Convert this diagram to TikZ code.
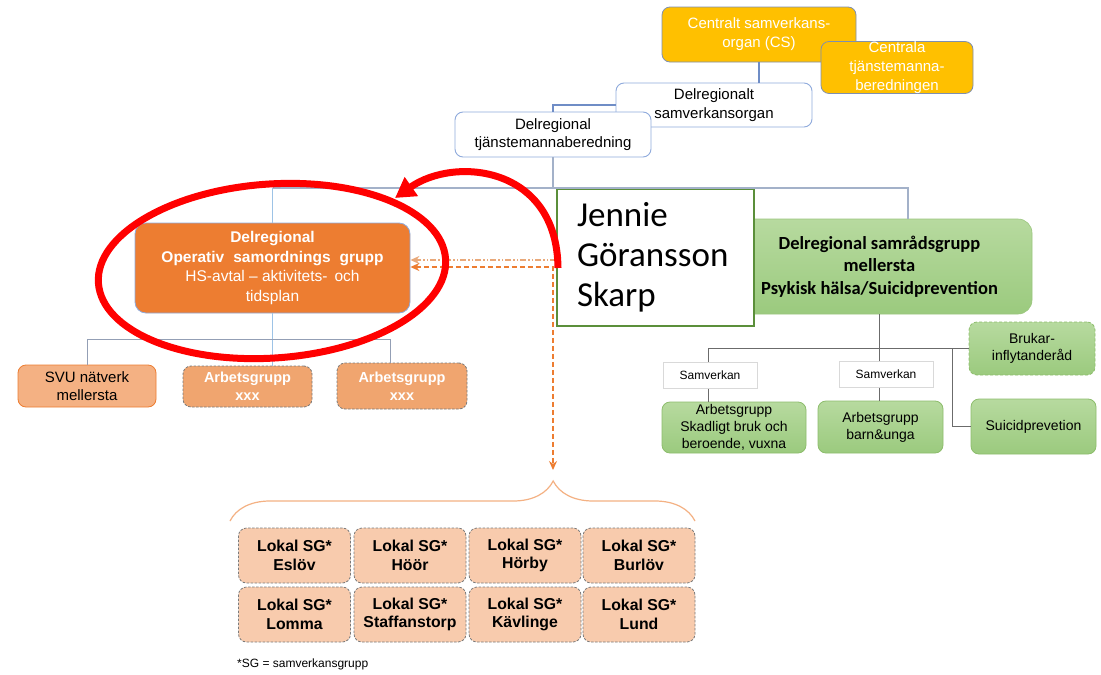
\documentclass[tikz,border=0pt]{standalone}
\usepackage{fontspec}
\setmainfont{Liberation Sans}
\newfontfamily\calfont{Carlito}
\usetikzlibrary{arrows.meta,decorations.pathreplacing,calc}

\definecolor{gold}{HTML}{FFC000}
\definecolor{boxblue}{HTML}{8FAADC}
\definecolor{goldedge}{HTML}{7E8FB0}
\definecolor{orng}{HTML}{ED7D31}
\definecolor{lorng}{HTML}{F4B183}
\definecolor{morng}{HTML}{F0A56F}
\definecolor{porng}{HTML}{F8CBAD}
\definecolor{grnA}{HTML}{B7DA9F}
\definecolor{grnB}{HTML}{9BCA7E}
\definecolor{dgrn}{HTML}{70AD47}
\definecolor{jgrn}{HTML}{5B8F3A}
\definecolor{linegray}{HTML}{6B6B6B}
\definecolor{lineblue}{HTML}{6F8DC6}
\definecolor{linebus}{HTML}{A3B1C9}
\definecolor{lightline}{HTML}{9DC3E6}
\definecolor{dashgray}{HTML}{7A7A7A}
\definecolor{tanline}{HTML}{E9A97A}
\definecolor{brred}{HTML}{FF0000}

\newcommand{\fsz}[2]{\fontsize{#1}{#2}\selectfont}

\begin{document}
\begin{tikzpicture}[x=1pt,y=-1pt,
  basebox/.style={inner sep=0pt, align=center, rounded corners=8pt},
  goldbox/.style={basebox, draw=goldedge, line width=0.8pt, fill=gold, text=white, font=\fsz{15}{19}},
  wbox/.style={basebox, draw=boxblue, line width=0.9pt, fill=white, font=\fsz{15}{18.5}},
  obox/.style={basebox, rounded corners=11pt, draw=boxblue, line width=0.8pt, fill=orng, text=white, font=\fsz{15.5}{19.5}},
  svubox/.style={basebox, draw=orng, line width=0.8pt, fill=lorng, font=\fsz{15}{18.5}},
  xbox/.style={basebox, draw=dashgray, dash pattern=on 2.5pt off 1.5pt, line width=0.8pt, fill=morng, text=white, font=\fsz{14.5}{18}\bfseries},
  lokbox/.style={basebox, draw=dashgray, dash pattern=on 2.5pt off 1.5pt, line width=0.8pt, fill=porng, minimum width=112pt, minimum height=55pt, font=\fsz{15.8}{18.5}\bfseries},
  bgbox/.style={basebox, rounded corners=14pt, draw=dgrn!70, line width=0.6pt, top color=grnA, bottom color=grnB, font=\calfont\fsz{18.5}{22.5}\bfseries},
  sgbox/.style={basebox, draw=dgrn!80, line width=0.8pt, top color=grnA, bottom color=grnB, font=\fsz{14}{17}},
  samv/.style={inner sep=0pt, draw=black!15, line width=0.6pt, fill=white, minimum width=94pt, minimum height=26pt, font=\fsz{12}{14}},
  jbox/.style={inner sep=0pt, draw=jgrn, line width=1.6pt, fill=white, align=left, font=\calfont\fsz{35}{40}},
  topline/.style={draw=lineblue, line width=1.2pt},
  busline/.style={draw=linebus, line width=1.1pt},
  lline/.style={draw=linebus!90!black, line width=1pt},
  lvline/.style={draw=lightline, line width=1pt},
  rline/.style={draw=linegray, line width=1pt},
  dshline/.style={draw=orng, line width=1.4pt, dash pattern=on 5pt off 3pt},
  ddline/.style={draw=tanline, line width=1.4pt, dash pattern=on 6pt off 2pt on 1.5pt off 2pt on 1.5pt off 2pt},
  redline/.style={draw=brred, line width=7pt}
]
\useasboundingbox (0,0) rectangle (1101,675);
\fill[white] (0,0) rectangle (1101,675);

% ---------- top boxes ----------
\node[goldbox, minimum width=194pt, minimum height=55pt] (cs) at (759,34.5) {Centralt samverkans-\\organ (CS)};
\node[goldbox, minimum width=152pt, minimum height=51pt] (ctj) at (897,67.5) {Centrala\\tjänstemanna-\\beredningen};
\node[wbox, minimum width=196pt, minimum height=44pt] (dso) at (714,105) {Delregionalt\\samverkansorgan};
\node[wbox, minimum width=196pt, minimum height=45pt] (dtj) at (553,134.5) {Delregional\\tjänstemannaberedning};

% ---------- coordinates ----------
\coordinate (bus) at (553,188);
\coordinate (gtop) at (908,219);
\coordinate (obus) at (272.5,339);
\coordinate (ag2c) at (390,363);
\coordinate (rl) at (708,348.5);
\coordinate (rj) at (952,348.5);

% ---------- left nodes ----------
\node[obox, minimum width=275pt, minimum height=90pt] (osg) at (272.5,268)
  {\textbf{Delregional}\\\textbf{Operativ\hspace{9pt}samordnings\hspace{9pt}grupp}\\HS-avtal – aktivitets-\hspace{7pt}och\\tidsplan};
\node[svubox, minimum width=138pt, minimum height=42pt] (svu) at (87,386) {SVU nätverk\\mellersta};
\node[xbox, minimum width=129pt, minimum height=41pt] (ag1) at (247.5,386.5) {Arbetsgrupp\\xxx};
\node[xbox, minimum width=130pt, minimum height=46pt] (ag2) at (402,386) {Arbetsgrupp\\xxx};

% ---------- right nodes ----------
\node[bgbox, minimum width=305pt, minimum height=95pt] (gb) at (879.5,266.5)
  {Delregional samrådsgrupp\\mellersta\\Psykisk hälsa/Suicidprevention};
\node[jbox, minimum width=197pt, minimum height=137pt, text width=157pt, inner xsep=20pt] (jen) at (655.5,257.5)
  {Jennie\\Göransson\\Skarp};
\node[sgbox, minimum width=144pt, minimum height=51pt] (agv) at (734,427.5) {Arbetsgrupp\\Skadligt bruk och\\beroende, vuxna};
\node[sgbox, minimum width=125pt, minimum height=52pt] (agb) at (880.5,427) {Arbetsgrupp\\barn\&unga};
\node[sgbox, dash pattern=on 3pt off 2pt, minimum width=126pt, minimum height=53pt] (bru) at (1032,348.5) {Brukar-\\inflytanderåd};
\node[sgbox, minimum width=125pt, minimum height=55pt] (sui) at (1033.5,426.5) {Suicidprevetion};

% ---------- connectors ----------
\draw[topline] (cs.south) -- (cs.south |- dso.north);
\draw[topline] (dso.west) -| (dtj.north);
\draw[busline] (dtj.south) -- (bus);
\draw[busline] (osg.north |- bus) -- (bus -| gtop) -- (gtop);
\draw[lvline] (osg.north) -- (osg.north |- bus);
\draw[lvline] (osg.south) -- (obus) -- (obus |- ag1.north);
\draw[lline] (svu.north) |- (obus);
\draw[lline] (obus) -| (ag2c);
\draw[rline] (gb.south) -- (gb.south |- agb.north);
\draw[rline] (rl) -- (rl |- agv.north);
\draw[rline] (rl) -- (bru.west);
\draw[rline] (rj) |- (sui.west);

% Samverkan labels over the lines
\node[samv] (sv1) at (710,375) {Samverkan};
\node[samv] (sv2) at (886,374) {Samverkan};

% ---------- local groups ----------
\node[lokbox] (l1) at (294.5,555.5) {Lokal SG*\\Eslöv};
\node[lokbox] (l2) at (410,555.5) {Lokal SG*\\Höör};
\node[lokbox] (l3) at (525,555.5) {Lokal SG*\\Hörby};
\node[lokbox] (l4) at (639,555.5) {Lokal SG*\\Burlöv};
\node[lokbox] (l5) at (294.5,614.5) {Lokal SG*\\Lomma};
\node[lokbox] (l6) at (410,614.5) {Lokal SG*\\Staffanstorp};
\node[lokbox] (l7) at (525,614.5) {Lokal SG*\\Kävlinge};
\node[lokbox] (l8) at (639,614.5) {Lokal SG*\\Lund};
\node[anchor=west, inner sep=0pt, font=\fsz{12}{14}] (fn) at (237,664) {*SG = samverkansgrupp};

% brace
\coordinate (brL) at (230,521);
\coordinate (brR) at (695,521);
\draw[draw=lorng, line width=1.2pt, decorate, decoration={brace, amplitude=40pt, aspect=0.695}] (brL) -- (brR);

% ---------- dashed orange arrows ----------
\coordinate (dd1) at (556,260);
\coordinate (dd2) at (553,267);
\coordinate (dtip) at (553,470);
\draw[ddline, -{Stealth[length=9pt,width=8pt]}] (dd1) -- (osg.east |- dd1);
\draw[dshline, {Stealth[length=9pt,width=8pt]}-{Stealth[length=9pt,width=8pt]}] (osg.east |- dd2) -- (dd2) -- (dtip);

% ---------- red highlight ----------
\coordinate (ec) at (272,271);
\draw[redline, rotate around={4:(ec)}] (ec) ellipse [x radius=174, y radius=87];
\coordinate (ra) at (558,268);
\coordinate (rb) at (395,198);
\draw[redline, -{Triangle[length=20pt,width=22pt]}] (ra) .. controls (557,166) and (455,156) .. (rb);
\end{tikzpicture}
\end{document}
